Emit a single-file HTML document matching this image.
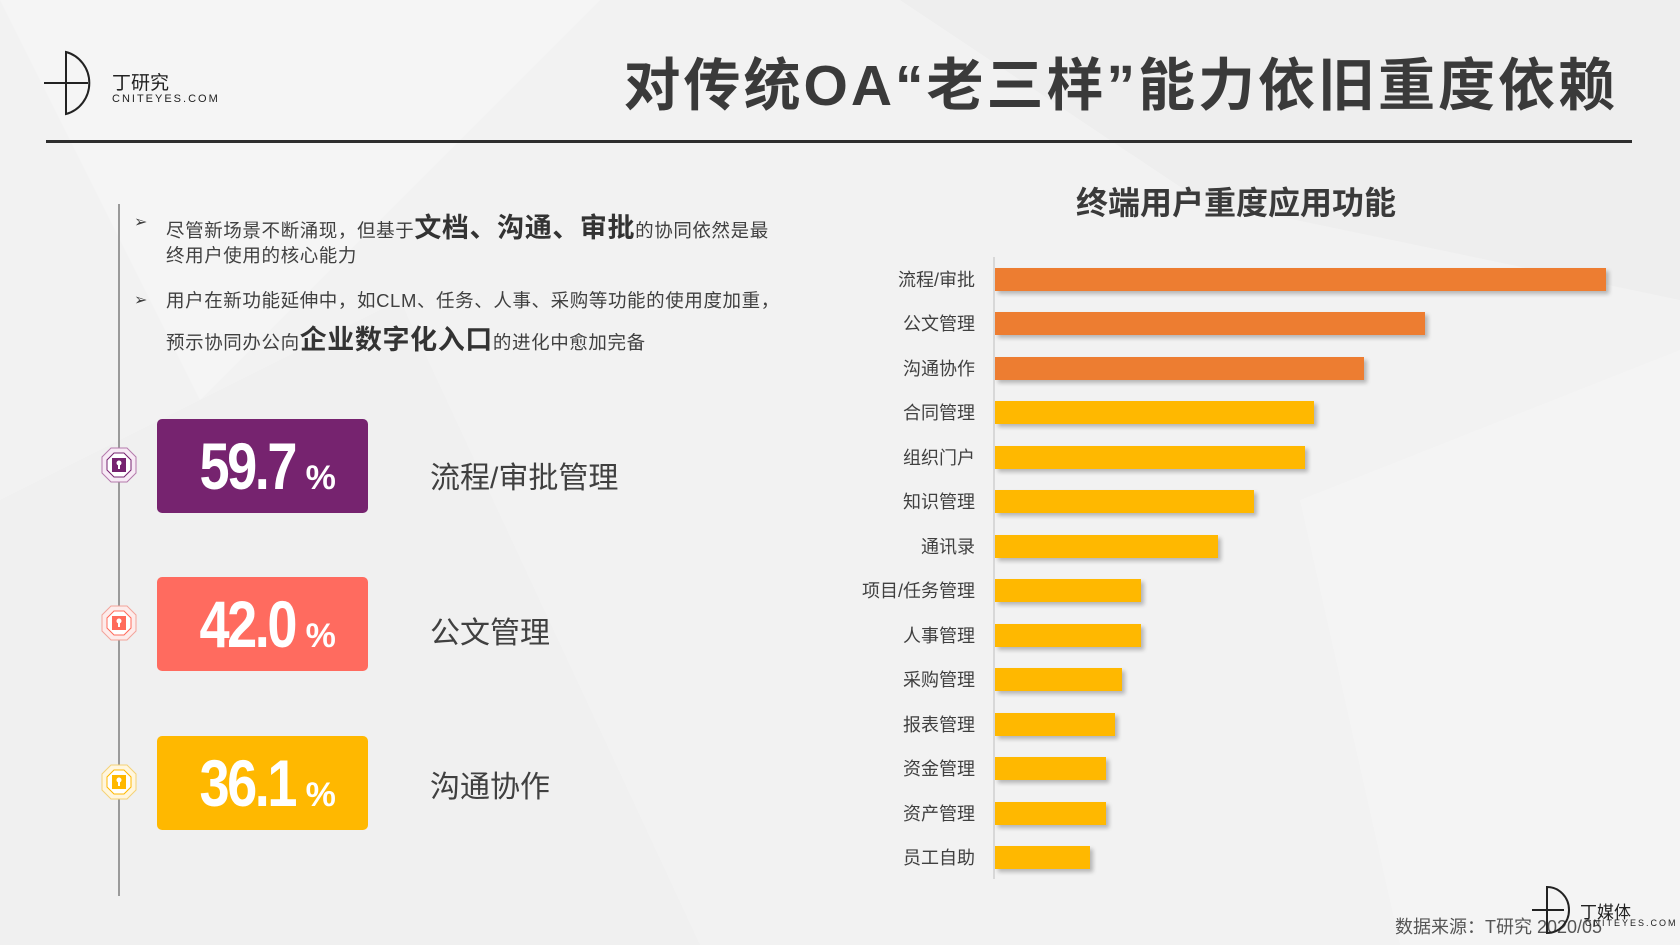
<!DOCTYPE html>
<html><head><meta charset="utf-8"><style>
body{margin:0;width:1680px;height:945px;overflow:hidden;background:#f2f2f2;font-family:"Liberation Sans","Noto Sans CJK SC",sans-serif;color:#404040;position:relative}
.a{position:absolute;white-space:nowrap}
.lab{position:absolute;right:705px;font-size:18px;color:#404040;line-height:20px}
.bar{position:absolute;left:995px;height:23px;box-shadow:3px 3px 4px rgba(0,0,0,.25)}
.box{position:absolute;left:157px;width:211px;height:94px;border-radius:5px;color:#fff;text-align:center;font-family:"Liberation Sans Narrow","Liberation Sans",sans-serif;font-weight:bold}
.box span.n{font-size:66px;line-height:94px;letter-spacing:-3px;display:inline-block;transform:scaleX(.82)}
.box span.p{font-size:34px}
.big{font-size:30px;color:#404040}
.ic{position:absolute;left:101px;width:36px;height:36px}
.t{font-size:18.5px;letter-spacing:0.6px}
</style></head><body>
<svg class="a" style="left:0;top:0" width="1680" height="945">
<polygon points="0,0 600,0 200,400" fill="#f5f5f5"/>
<polygon points="900,0 1680,0 1680,300 1200,200" fill="#eeeeee"/>
<polygon points="1300,500 1680,350 1680,945 1400,945" fill="#f4f4f4"/>
<polygon points="0,500 400,300 700,945 0,945" fill="#f0f0f0"/>
</svg>
<!-- logo -->
<svg class="a" style="left:44px;top:50px" width="60" height="66"><path d="M22 2 A31 32 0 0 1 22 64 Z" fill="none" stroke="#222" stroke-width="2"/><line x1="0" y1="33" x2="44" y2="33" stroke="#222" stroke-width="2"/></svg>
<div class="a" style="left:112px;top:68px;font-size:19px;color:#222">丁研究</div>
<div class="a" style="left:112px;top:93px;font-size:11px;letter-spacing:2px;color:#222">CNITEYES.COM</div>
<div class="a" style="right:62px;top:40px;font-size:57px;font-weight:bold;color:#3a3a3a;letter-spacing:3px">对传统OA“老三样”能力依旧重度依赖</div>
<div class="a" style="left:46px;top:140px;width:1586px;height:3px;background:#2e2e2e"></div>
<!-- bullets -->
<div class="a" style="left:118px;top:204px;width:2px;height:692px;background:#9a9a9a"></div>
<div class="a" style="left:134px;top:212px;font-size:16px">➢</div>
<div class="a t" style="left:166px;top:206px">尽管新场景不断涌现，但基于<b style="font-size:27px;color:#333">文档、沟通、审批</b>的协同依然是最</div>
<div class="a t" style="left:166px;top:242px">终用户使用的核心能力</div>
<div class="a" style="left:134px;top:290px;font-size:16px">➢</div>
<div class="a t" style="left:166px;top:287px">用户在新功能延伸中，如CLM、任务、人事、采购等功能的使用度加重，</div>
<div class="a t" style="left:166px;top:318px">预示协同办公向<b style="font-size:27px;color:#333">企业数字化入口</b>的进化中愈加完备</div>
<!-- boxes -->
<svg class="ic" style="top:447px" viewBox="0 0 36 36"><polygon points="10,1 26,1 35,10 35,26 26,35 10,35 1,26 1,10" fill="#f7eaf5" stroke="#b57aac"/><polygon points="13,6 23,6 30,13 30,23 23,30 13,30 6,23 6,13" fill="#fff" stroke="#76236f"/><rect x="11" y="11" width="14" height="14" fill="#76236f"/><circle cx="18" cy="16" r="2.5" fill="#fff"/><rect x="17" y="16" width="2" height="6" fill="#fff"/></svg>
<svg class="ic" style="top:605px" viewBox="0 0 36 36"><polygon points="10,1 26,1 35,10 35,26 26,35 10,35 1,26 1,10" fill="#fdeceb" stroke="#f3a39a"/><polygon points="13,6 23,6 30,13 30,23 23,30 13,30 6,23 6,13" fill="#fff" stroke="#ff6b5b"/><rect x="11" y="11" width="14" height="14" fill="#ff6b5b"/><circle cx="18" cy="16" r="2.5" fill="#fff"/><rect x="17" y="16" width="2" height="6" fill="#fff"/></svg>
<svg class="ic" style="top:764px" viewBox="0 0 36 36"><polygon points="10,1 26,1 35,10 35,26 26,35 10,35 1,26 1,10" fill="#fff6de" stroke="#f5d276"/><polygon points="13,6 23,6 30,13 30,23 23,30 13,30 6,23 6,13" fill="#fff" stroke="#ffb800"/><rect x="11" y="11" width="14" height="14" fill="#ffb800"/><circle cx="18" cy="16" r="2.5" fill="#fff"/><rect x="17" y="16" width="2" height="6" fill="#fff"/></svg>
<div class="box" style="top:419px;background:#76236f"><span class="n">59.7</span><span class="p">%</span></div>
<div class="box" style="top:577px;background:#ff6b5f"><span class="n">42.0</span><span class="p">%</span></div>
<div class="box" style="top:736px;background:#ffb800"><span class="n">36.1</span><span class="p">%</span></div>
<div class="a big" style="left:430px;top:453px">流程/审批管理</div>
<div class="a big" style="left:430px;top:608px">公文管理</div>
<div class="a big" style="left:430px;top:762px">沟通协作</div>
<!-- chart -->
<div class="a" style="left:1236px;top:178px;transform:translateX(-50%);font-size:32px;font-weight:bold;color:#3a3a3a">终端用户重度应用功能</div>
<div class="a" style="left:993px;top:257px;width:2px;height:622px;background:#d8d8d8"></div>
<div class="lab" style="top:270px">流程/审批</div><div class="bar" style="top:268px;width:611px;background:#ed7d31"></div>
<div class="lab" style="top:314px">公文管理</div><div class="bar" style="top:312px;width:430px;background:#ed7d31"></div>
<div class="lab" style="top:359px">沟通协作</div><div class="bar" style="top:357px;width:369px;background:#ed7d31"></div>
<div class="lab" style="top:403px">合同管理</div><div class="bar" style="top:401px;width:319px;background:#ffb800"></div>
<div class="lab" style="top:448px">组织门户</div><div class="bar" style="top:446px;width:310px;background:#ffb800"></div>
<div class="lab" style="top:492px">知识管理</div><div class="bar" style="top:490px;width:259px;background:#ffb800"></div>
<div class="lab" style="top:537px">通讯录</div><div class="bar" style="top:535px;width:223px;background:#ffb800"></div>
<div class="lab" style="top:581px">项目/任务管理</div><div class="bar" style="top:579px;width:146px;background:#ffb800"></div>
<div class="lab" style="top:626px">人事管理</div><div class="bar" style="top:624px;width:146px;background:#ffb800"></div>
<div class="lab" style="top:670px">采购管理</div><div class="bar" style="top:668px;width:127px;background:#ffb800"></div>
<div class="lab" style="top:715px">报表管理</div><div class="bar" style="top:713px;width:120px;background:#ffb800"></div>
<div class="lab" style="top:759px">资金管理</div><div class="bar" style="top:757px;width:111px;background:#ffb800"></div>
<div class="lab" style="top:804px">资产管理</div><div class="bar" style="top:802px;width:111px;background:#ffb800"></div>
<div class="lab" style="top:848px">员工自助</div><div class="bar" style="top:846px;width:95px;background:#ffb800"></div>
<!-- footer -->
<div class="a" style="left:1395px;top:913px;font-size:18px;color:#555">数据来源：T研究 2020/05</div>
<svg class="a" style="left:1532px;top:886px" width="40" height="50"><path d="M15 1 A22 23 0 0 1 15 47 Z" fill="none" stroke="#222" stroke-width="2"/><line x1="0" y1="24" x2="32" y2="24" stroke="#222" stroke-width="2"/></svg>
<div class="a" style="left:1580px;top:898px;font-size:17px;color:#222">丁媒体</div>
<div class="a" style="left:1585px;top:918px;font-size:9px;letter-spacing:2px;color:#222">CNITEYES.COM</div>
</body></html>
